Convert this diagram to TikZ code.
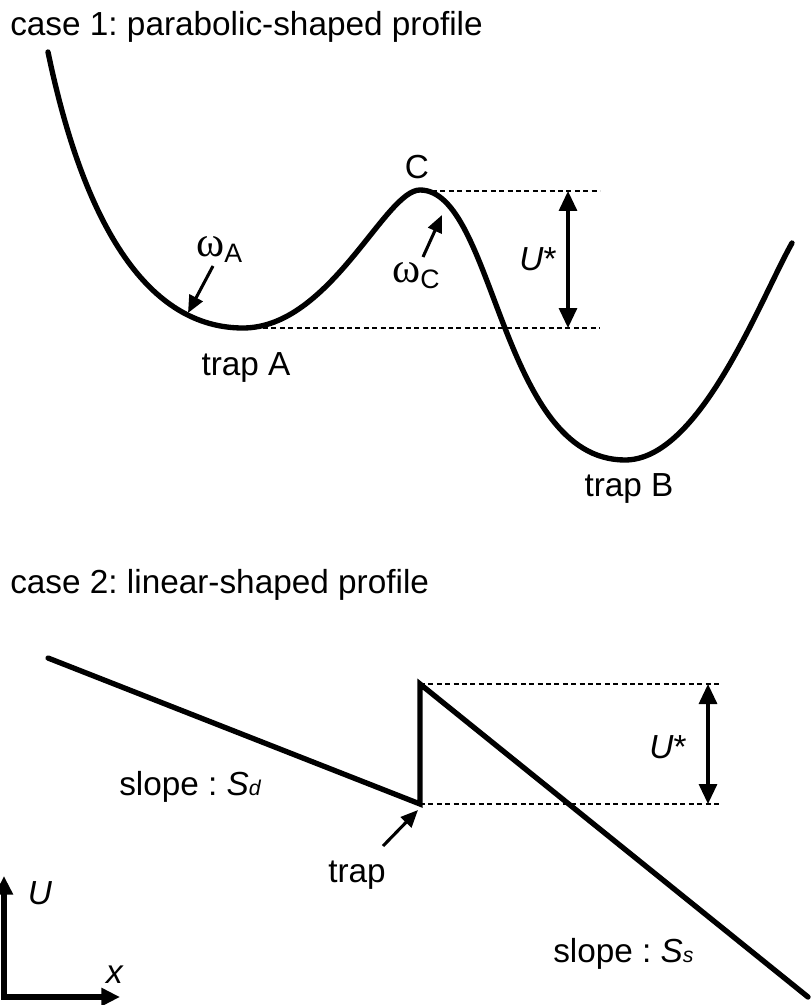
\documentclass[tikz,border=0pt]{standalone}
\usepackage{fontspec}
\setmainfont{Liberation Sans}
\newfontfamily\omegafont{Liberation Serif}
\usetikzlibrary{arrows.meta}
\frenchspacing
\tikzset{
  profile/.style={line width=4pt,line join=round,line cap=round},
  sawtooth/.style={line width=4pt,line join=miter,line cap=round},
  level/.style={line width=1.8pt,dash pattern=on 3.8pt off 2.5pt},
  pointer/.style={line width=2.3pt,-{Triangle[length=13pt,width=11pt]}},
  dimarrow/.style={line width=2.4pt,{Triangle[length=15pt,width=13.5pt]}-{Triangle[length=15pt,width=13.5pt]}},
  axisarrow/.style={line width=3.8pt,line join=miter,{Triangle[length=14pt,width=13pt]}-{Triangle[length=14pt,width=13pt]}},
  txt/.style={inner sep=0pt,font=\fontsize{25}{30}\selectfont},
}
\newcommand{\omegasub}[1]{{\omegafont\fontsize{32}{32}\selectfont ω}\raisebox{-4.5pt}{\fontsize{20}{20}\selectfont #1}}
\newcommand{\slopesub}[1]{\textit{S\fontsize{16}{16}\selectfont #1}}

\begin{document}
\begin{tikzpicture}[x=0.75pt,y=-0.75pt]
\useasboundingbox (0,0) rectangle (812,1005);

\node[txt,anchor=base west] (title1) at (10,36) {case 1: parabolic-shaped profile};
\coordinate (wellStart) at (48,52);
\coordinate (minA) at (243,328);
\coordinate (peakC) at (420,190);
\coordinate (minB) at (625,460);
\coordinate (wellEnd) at (792,243);
\draw[profile] (wellStart) .. controls (85,230) and (150,328) .. (minA)
  .. controls (330,328) and (385,190) .. (peakC)
  .. controls (495,190) and (500,460) .. (minB)
  .. controls (700,460) and (760,300) .. (wellEnd);
\coordinate (topStart) at (432,191);
\coordinate (botStart) at (263,328);
\coordinate (topEnd) at (600,191);
\coordinate (botEnd) at (600,328);
\draw[level] (topStart) -- (topEnd);
\draw[level] (botStart) -- (botEnd);
\coordinate (dimTop) at (568,191);
\coordinate (dimBot) at (568,328);
\draw[dimarrow] (dimTop) -- (dimBot);
\node[txt] (ustarA) at (538,259) {\textit{U}*};
\node[txt] (labC) at (417,167) {C};
\node[txt,anchor=base west] (omegaA) at (196,257) {\omegasub{A}};
\node[txt,anchor=base west] (omegaC) at (392,282) {\omegasub{C}};
\coordinate (omegaAtail) at (213,266);
\coordinate (omegaAhead) at (188,313);
\coordinate (omegaCtail) at (423,257);
\coordinate (omegaChead) at (442,215);
\draw[pointer] (omegaAtail) -- (omegaAhead);
\draw[pointer] (omegaCtail) -- (omegaChead);
\node[txt,anchor=base] (labTrapA) at (246,375) {trap A};
\node[txt,anchor=base] (labTrapB) at (629,496) {trap B};

\node[txt,anchor=base west] (title2) at (10,593) {case 2: linear-shaped profile};
\coordinate (lineStart) at (48,658);
\coordinate (trapPt) at (420,804);
\coordinate (barrier) at (420,684);
\coordinate (lineEnd) at (808,997);
\draw[sawtooth] (lineStart) -- (trapPt) -- (barrier) -- (lineEnd);
\coordinate (topEnd2) at (722,684);
\coordinate (botEnd2) at (722,804);
\draw[level] (barrier) -- (topEnd2);
\draw[level] (trapPt) -- (botEnd2);
\coordinate (dimTop2) at (708,684);
\coordinate (dimBot2) at (708,804);
\draw[dimarrow] (dimTop2) -- (dimBot2);
\node[txt] (ustarB) at (668,747) {\textit{U}*};
\node[txt,anchor=base west] (slopeD) at (119,795) {slope : \slopesub{d}};
\node[txt,anchor=base west] (slopeS) at (553,962) {slope : \slopesub{s}};
\node[txt,anchor=base] (labTrap) at (357,882) {trap};
\coordinate (trapTail) at (383,846);
\coordinate (trapHead) at (418,810);
\draw[pointer] (trapTail) -- (trapHead);

\coordinate (origin) at (4,997);
\coordinate (uTip) at (4,876);
\coordinate (xTip) at (120,997);
\draw[axisarrow] (uTip) -- (origin) -- (xTip);
\node[txt] (labU) at (40,893) {\textit{U}};
\node[txt] (labX) at (115,975) {\textit{x}};
\end{tikzpicture}
\end{document}
